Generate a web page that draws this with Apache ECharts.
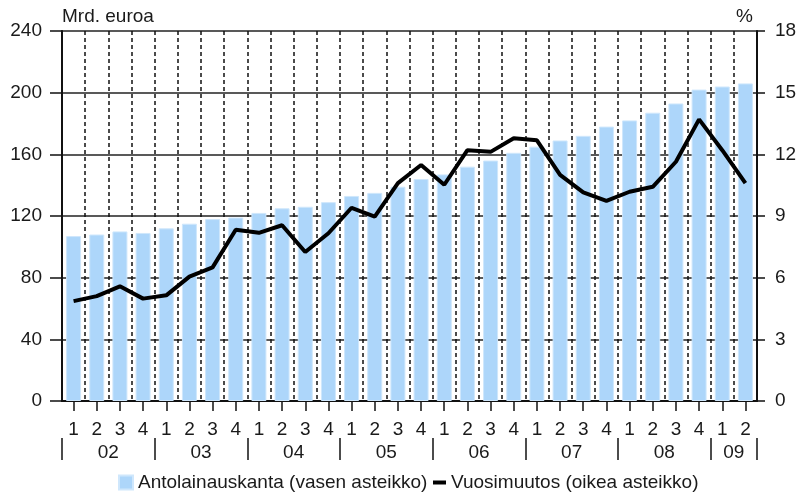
<!DOCTYPE html>
<html>
<head>
<meta charset="utf-8">
<script src="https://cdn.jsdelivr.net/npm/echarts@6/dist/echarts.min.js"></script>
<style>
  html, body { margin: 0; padding: 0; background: #fff; }
  #main { width: 800px; height: 496px; }
</style>
</head>
<body>
<div id="main"></div>
<script>
// data
var yearLabels = ['02', '03', '04', '05', '06', '07', '08', '09'];
var yearQuarters = [4, 4, 4, 4, 4, 4, 4, 2];
var stock = [107, 108, 110, 109, 112, 115, 118, 119, 122, 125, 126, 129, 133, 135, 139,
             144, 147, 152, 156, 161, 165, 169, 172, 178, 182, 187, 193, 202, 204, 206];
var change = [4.86, 5.1, 5.58, 4.98, 5.14, 6.05, 6.5, 8.33, 8.18, 8.55, 7.25, 8.16, 9.4, 8.97, 10.6,
              11.48, 10.52, 12.2, 12.12, 12.78, 12.68, 11.0, 10.15, 9.74, 10.18, 10.42, 11.64, 13.7, 12.2, 10.6];
var leftTicks = { min: 0, max: 240, interval: 40 };
var rightTicks = { min: 0, max: 18, interval: 3 };
var barName = 'Antolainauskanta (vasen asteikko)';
var lineName = 'Vuosimuutos (oikea asteikko)';

// quarter labels + half-quarter slots for the year row
var quarters = [];
var yearSlots = [''];
var yearTicks = [0];
for (var i = 0; i < yearLabels.length; i++) {
	var start = yearSlots.length - 1;
	for (var q = 1; q <= yearQuarters[i]; q++) {
		quarters.push(String(q));
		yearSlots.push('', '');
	}
	yearSlots[start + yearQuarters[i]] = yearLabels[i];
	yearTicks.push(yearSlots.length - 1);
}

var plotLeft = 62, plotRight = 43;
var halfCat = (800 - plotLeft - plotRight) / quarters.length / 2;

var font = 'Liberation Sans, Arial, sans-serif';
var txt = { fontFamily: font, fontSize: 19, color: '#1a1a1a' };

var option = {
	animation: false,
	textStyle: { fontFamily: font },
	grid: [
		{ left: plotLeft, right: plotRight, top: 31, bottom: 95 },
		// year row under the quarter labels
		{ left: plotLeft, right: plotRight, top: 438, bottom: 36 },
		// strip for the quarter ticks, from first to last bar centre
		{ left: plotLeft + halfCat, right: plotRight + halfCat, top: 402, height: 9 }
	],
	legend: [
		{
			data: [barName], left: 118, top: 473, icon: 'rect',
			itemWidth: 14, itemHeight: 14, textStyle: txt, padding: 0
		},
		{
			data: [lineName], left: 433, top: 473, icon: 'rect',
			itemWidth: 13, itemHeight: 4, textStyle: txt, padding: 0
		}
	],
	xAxis: [
		{
			type: 'category',
			data: quarters,
			axisLine: { lineStyle: { color: '#111', width: 2 } },
			axisTick: { show: false },
			axisLabel: Object.assign({ margin: 19, interval: 0 }, txt),
			splitLine: { show: true, lineStyle: { color: '#111', type: [4, 3], width: 1.5 } }
		},
		{
			type: 'category',
			gridIndex: 1,
			position: 'top',
			boundaryGap: false,
			data: yearSlots,
			axisLine: { show: false },
			axisTick: { show: false },
			axisLabel: Object.assign({
				inside: true,
				margin: 5,
				interval: function (idx, val) { return val !== ''; }
			}, txt),
			splitLine: {
				show: true,
				interval: function (idx) { return yearTicks.indexOf(idx) >= 0; },
				lineStyle: { color: '#111', width: 1.5 }
			}
		},
		{
			type: 'value',
			gridIndex: 2,
			position: 'top',
			min: 0, max: quarters.length - 1, interval: 1,
			axisLine: { show: false },
			axisTick: { show: false },
			axisLabel: { show: false },
			splitLine: { show: true, lineStyle: { color: '#111', width: 1.5 } }
		}
	],
	yAxis: [
		{
			type: 'value',
			min: leftTicks.min, max: leftTicks.max, interval: leftTicks.interval,
			name: 'Mrd. euroa',
			nameGap: 5,
			nameTextStyle: Object.assign({ align: 'left' }, txt),
			axisLine: { show: true, lineStyle: { color: '#111', width: 2 } },
			axisTick: { show: true, length: 12, lineStyle: { color: '#111', width: 1.5 } },
			axisLabel: Object.assign({ margin: 20 }, txt),
			splitLine: { show: true, lineStyle: { color: '#222', width: 1.5 } }
		},
		{
			type: 'value',
			min: rightTicks.min, max: rightTicks.max, interval: rightTicks.interval,
			name: '%',
			nameGap: 5,
			nameTextStyle: Object.assign({ align: 'right', padding: [0, 4, 0, 0] }, txt),
			axisLine: { show: true, lineStyle: { color: '#111', width: 2 } },
			axisTick: { show: true, length: 8, lineStyle: { color: '#111', width: 1.5 } },
			axisLabel: Object.assign({ margin: 18 }, txt),
			splitLine: { show: false }
		},
		{ type: 'value', gridIndex: 1, show: false },
		{ type: 'value', gridIndex: 2, show: false }
	],
	series: [
		{
			name: barName,
			type: 'bar',
			data: stock,
			barWidth: 15,
			itemStyle: { color: '#add6fa', borderColor: '#cfe7fc', borderWidth: 1 }
		},
		{
			name: lineName,
			type: 'line',
			yAxisIndex: 1,
			data: change,
			showSymbol: false,
			symbol: 'none',
			color: '#000',
			lineStyle: { color: '#000', width: 4 }
		}
	]
};

var myChart = echarts.init(document.getElementById('main'));
myChart.setOption(option);
</script>
</body>
</html>
